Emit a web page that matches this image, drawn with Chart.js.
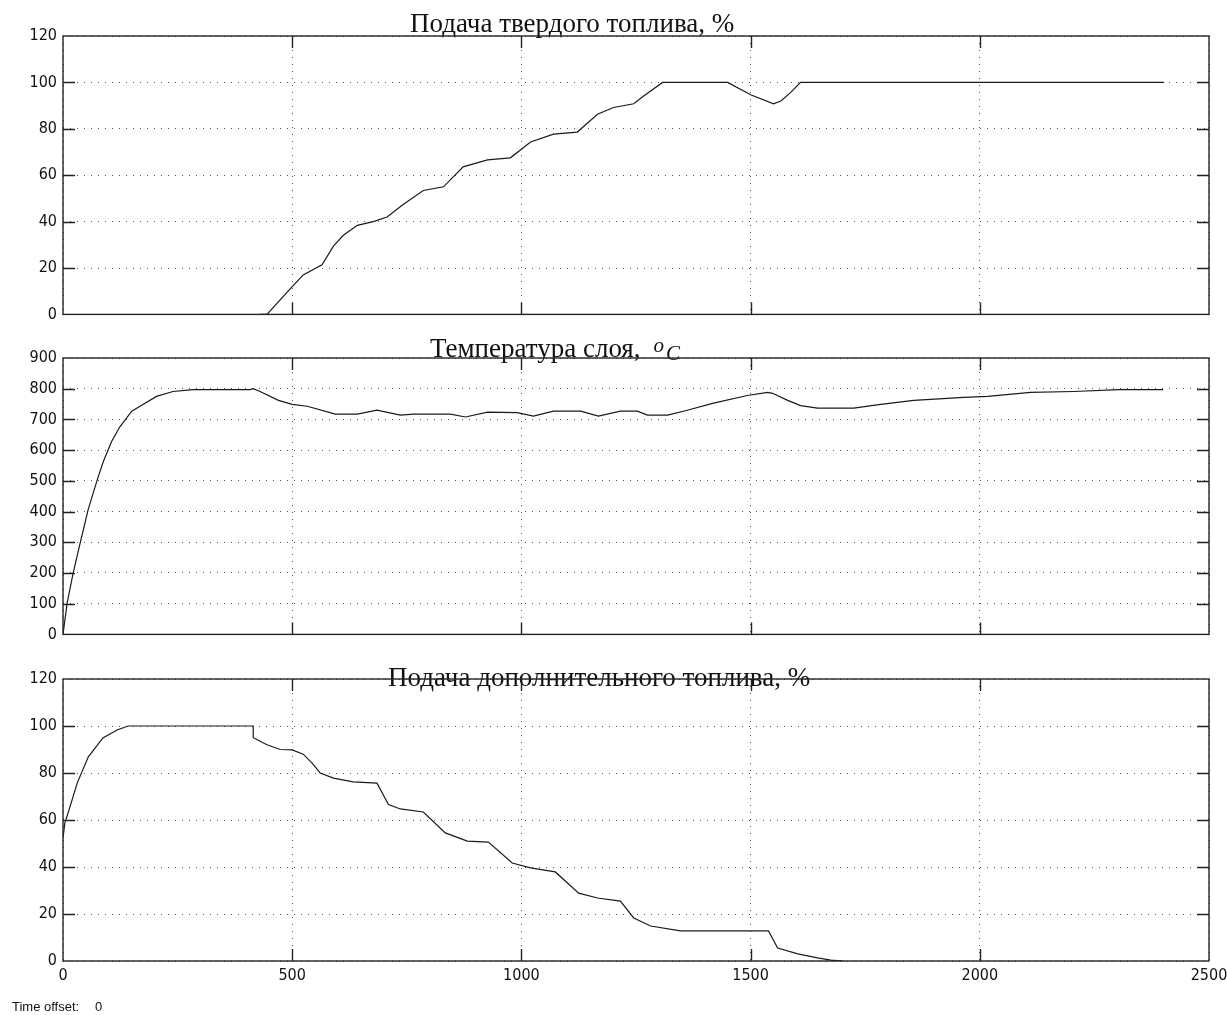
<!DOCTYPE html>
<html>
<head>
<meta charset="utf-8">
<script src="https://cdn.jsdelivr.net/npm/chart.js@4.4.0/dist/chart.umd.min.js"></script>
<style>
  body { margin: 0; background: #fff; }
  #wrap { position: relative; width: 1227px; height: 1015px; }
  canvas { position: absolute; left: 0; }
  #offset { position: absolute; left: 12px; top: 999px; font: 13px "Liberation Sans Narrow", "Liberation Sans", Arial, sans-serif; color: #111; }
  #offset span { position: absolute; left: 83px; }
</style>
</head>
<body>
<div id="wrap">
  <canvas id="feedChart" width="1227" height="330" style="top:0"></canvas>
  <canvas id="tempChart" width="1227" height="320" style="top:330px"></canvas>
  <canvas id="extraChart" width="1227" height="365" style="top:650px"></canvas>
  <div id="offset">Time offset:<span>0</span></div>
</div>
<script>
// time axis
const xTicks = [0, 500, 1000, 1500, 2000, 2500];

// Подача твердого топлива, %
const feedX = [430, 445, 498, 524, 565, 590, 611, 642, 677, 707, 742, 786, 830, 873, 926, 976, 1020, 1070, 1122, 1166, 1201, 1245, 1266, 1308, 1450, 1500, 1550, 1566, 1587, 1609, 2402];
const feedY = [0, 0, 11.5, 17, 21.4, 29.4, 34, 38.4, 40, 42, 47.4, 53.4, 55, 63.6, 66.6, 67.5, 74.3, 77.7, 78.6, 86.3, 89.2, 90.8, 94, 100, 100, 94.7, 90.8, 92, 95.6, 100, 100];
const feedTicks = [0, 20, 40, 60, 80, 100, 120];

// Температура слоя, °C
const tempX = [0, 9, 22, 37, 55, 74, 88, 106, 124, 150, 168, 204, 240, 284, 408, 415, 430, 470, 500, 533, 594, 642, 685, 736, 765, 845, 878, 926, 991, 1026, 1070, 1129, 1168, 1216, 1253, 1275, 1319, 1362, 1419, 1493, 1537, 1548, 1581, 1609, 1646, 1725, 1784, 1856, 1965, 2017, 2111, 2205, 2304, 2400];
const tempY = [0, 102, 199, 295, 407, 500, 563, 628, 676, 727, 743, 775, 791, 797, 797, 800, 791, 762, 749, 743, 717, 717, 730, 714, 717, 717, 708, 724, 722, 711, 727, 727, 711, 727, 727, 714, 714, 730, 753, 778, 788, 785, 762, 745, 737, 737, 749, 762, 772, 775, 788, 791, 797, 797];
const tempTicks = [0, 100, 200, 300, 400, 500, 600, 700, 800, 900];

// Подача дополнительного топлива, %
const extraX = [0, 4, 15, 31, 55, 87, 118, 142, 415, 415, 445, 474, 500, 524, 543, 561, 590, 633, 685, 710, 736, 786, 834, 882, 928, 980, 1020, 1074, 1125, 1166, 1216, 1245, 1282, 1347, 1539, 1559, 1603, 1646, 1675, 1703];
const extraY = [52.3, 58.7, 65.5, 75.7, 86.8, 94.9, 98.3, 100, 100, 95, 92, 90, 89.8, 88, 84.3, 80, 77.8, 76.2, 75.7, 66.6, 64.7, 63.4, 54.5, 51, 50.6, 41.7, 39.6, 37.9, 28.9, 26.8, 25.5, 18.3, 14.9, 12.8, 12.8, 5.5, 3, 1.3, 0.4, 0];
const extraTicks = [0, 20, 40, 60, 80, 100, 120];

const tickFont = { family: "'Liberation Sans Narrow', 'DejaVu Sans Condensed', 'Liberation Sans', sans-serif", size: 16 };
const serif = "'Liberation Serif', 'DejaVu Serif', serif";

// scope look: title under the frame, solid frame, inward tick marks
const scopePlugin = {
  id: 'scope',
  beforeDraw(chart, args, opts) {
    const ctx = chart.ctx;
    ctx.save();
    ctx.fillStyle = '#111';
    ctx.textBaseline = 'alphabetic';
    let x = opts.x;
    for (const p of opts.parts) {
      ctx.font = p.font;
      x += p.gap || 0;
      ctx.fillText(p.text, x, opts.y + (p.dy || 0));
      x += ctx.measureText(p.text).width;
    }
    ctx.restore();
  },
  afterDraw(chart) {
    const { ctx, chartArea: a, scales } = chart;
    ctx.save();
    ctx.strokeStyle = '#222';
    ctx.lineWidth = 1.4;
    ctx.strokeRect(a.left, a.top, a.right - a.left, a.bottom - a.top);
    ctx.beginPath();
    scales.x.ticks.forEach(t => {
      const px = Math.round(scales.x.getPixelForValue(t.value)) + 0.5;
      if (px <= a.left + 2 || px >= a.right - 2) return;
      ctx.moveTo(px, a.top); ctx.lineTo(px, a.top + 12);
      ctx.moveTo(px, a.bottom); ctx.lineTo(px, a.bottom - 12);
    });
    scales.y.ticks.forEach(t => {
      const py = Math.round(scales.y.getPixelForValue(t.value)) + 0.5;
      if (py <= a.top + 2 || py >= a.bottom - 2) return;
      ctx.moveTo(a.left, py); ctx.lineTo(a.left + 12, py);
      ctx.moveTo(a.right, py); ctx.lineTo(a.right - 12, py);
    });
    ctx.stroke();
    ctx.restore();
  }
};

function makeScope(id, xs, ys, yTicks, padTop, xHeight, showX, title) {
  const yMax = yTicks[yTicks.length - 1];
  new Chart(document.getElementById(id), {
    type: 'line',
    data: {
      datasets: [{
        data: xs.map((x, i) => ({ x: x, y: ys[i] })),
        borderColor: '#1a1a1a',
        borderWidth: 1.2,
        pointRadius: 0,
        tension: 0,
        fill: false
      }]
    },
    options: {
      responsive: false,
      animation: false,
      layout: { padding: { top: padTop, right: 18, left: 0, bottom: 0 } },
      plugins: { legend: { display: false }, tooltip: { enabled: false }, scope: title },
      scales: {
        x: {
          type: 'linear', min: 0, max: 2500,
          afterBuildTicks: s => { s.ticks = xTicks.map(v => ({ value: v })); },
          afterFit: s => { s.height = xHeight; s.paddingLeft = 0; s.paddingRight = 0; },
          grid: { color: '#555', lineWidth: 1, drawTicks: false },
          border: { display: false, dash: [1, 6] },
          ticks: { display: showX, color: '#111', font: tickFont, padding: 5, maxRotation: 0, callback: v => String(v) }
        },
        y: {
          min: 0, max: yMax,
          afterBuildTicks: s => { s.ticks = yTicks.map(v => ({ value: v })); },
          afterFit: s => { s.width = 63; },
          grid: { color: '#555', lineWidth: 1, drawTicks: false },
          border: { display: false, dash: [1, 6] },
          ticks: { color: '#111', font: tickFont, padding: 6, callback: v => String(v) }
        }
      }
    },
    plugins: [scopePlugin]
  });
}

makeScope('feedChart', feedX, feedY, feedTicks, 36, 13, false,
  { x: 410, y: 32, parts: [{ text: 'Подача твердого топлива, %', font: '27px ' + serif }] });

makeScope('tempChart', tempX, tempY, tempTicks, 28, 11, false,
  { x: 430, y: 27, parts: [
    { text: 'Температура слоя,', font: '27px ' + serif },
    { text: 'o', font: 'italic 21px ' + serif, gap: 13, dy: -5 },
    { text: 'C', font: 'italic 21px ' + serif, gap: 2, dy: 3 }
  ] });

makeScope('extraChart', extraX, extraY, extraTicks, 29, 54, true,
  { x: 388, y: 36, parts: [{ text: 'Подача дополнительного топлива, %', font: '27px ' + serif }] });
</script>
</body>
</html>
